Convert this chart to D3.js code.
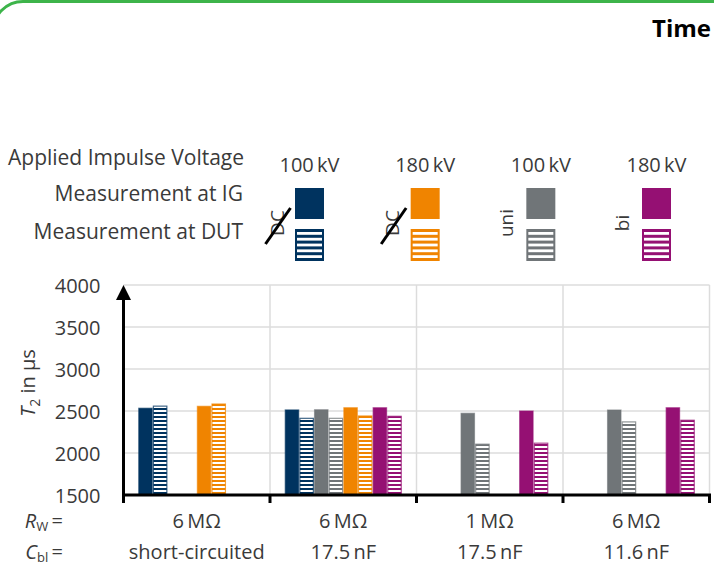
<!DOCTYPE html>
<html>
<head>
<meta charset="utf-8">
<script src="https://cdn.jsdelivr.net/npm/d3@7"></script>
<style>
  body { margin: 0; background: #fff; }
  svg { display: block; font-family: "Open Sans", sans-serif; }
</style>
</head>
<body>
<div id="chart"></div>
<script>
// ---- DATA ----
const groups = ["A", "B", "C", "D"];
const rwLabels = ["6\u2009M\u03A9", "6\u2009M\u03A9", "1\u2009M\u03A9", "6\u2009M\u03A9"];
const cblLabels = ["short-circuited", "17.5\u2009nF", "17.5\u2009nF", "11.6\u2009nF"];

// bar order inside every group
const seriesKeys = ["dc100IG", "dc100DUT", "uni100IG", "uni100DUT", "dc180IG", "dc180DUT", "bi180IG", "bi180DUT"];
const dc100IG   = [2540, 2520, null, null];
const dc100DUT  = [2565, 2420, null, null];
const uni100IG  = [null, 2522, 2480, 2519];
const uni100DUT = [null, 2420, 2112, 2377];
const dc180IG   = [2563, 2546, null, null];
const dc180DUT  = [2590, 2448, null, null];
const bi180IG   = [null, 2546, 2507, 2546];
const bi180DUT  = [null, 2444, 2124, 2397];

const yTicks = [1500, 2000, 2500, 3000, 3500, 4000];

const legendVoltages = ["100\u2009kV", "180\u2009kV", "100\u2009kV", "180\u2009kV"];
const legendTypes = ["DC", "DC", "uni", "bi"];

const colors = { navy: "#00335f", orange: "#f08400", gray: "#707578", purple: "#951073" };
const legendColors = [colors.navy, colors.orange, colors.gray, colors.purple];
const seriesColors = [colors.navy, colors.navy, colors.gray, colors.gray, colors.orange, colors.orange, colors.purple, colors.purple];

const values = { dc100IG, dc100DUT, uni100IG, uni100DUT, dc180IG, dc180DUT, bi180IG, bi180DUT };

const W = 714, H = 566;
const textCol = "#3a3a3a";
const fs = "21px";

const svg = d3.select("#chart").append("svg")
    .attr("width", W).attr("height", H);

const defs = svg.append("defs");

// striped patterns for the DUT bars
legendColors.forEach((c, i) => {
    let p = defs.append("pattern")
        .attr("id", "stripe" + i)
        .attr("patternUnits", "userSpaceOnUse")
        .attr("width", 4).attr("height", 4)
        .attr("y", 1);
    p.append("rect").attr("width", 4).attr("height", 4).attr("fill", c);
    p.append("rect").attr("y", 1).attr("width", 4).attr("height", 2).attr("fill", "#fff");
});
const stripeId = c => "url(#stripe" + legendColors.indexOf(c) + ")";

// green frame in the corner
svg.append("rect")
    .attr("x", -7).attr("y", 1.5)
    .attr("width", 760).attr("height", 700)
    .attr("rx", 30)
    .attr("fill", "none")
    .attr("stroke", "#3db44a")
    .attr("stroke-width", 3);

svg.append("text")
    .attr("x", 711).attr("y", 37)
    .attr("text-anchor", "end")
    .style("font-weight", "bold")
    .style("font-size", "24px")
    .attr("fill", "#000")
    .text("Time");

// ---- SCALES ----
const plot = { left: 123.5, right: 709.5, top: 285, bottom: 495 };

let x0 = d3.scaleBand()
    .domain(groups)
    .range([plot.left, plot.right])
    .padding(0);

let x1 = d3.scaleBand()
    .domain(seriesKeys)
    .range([0, x0.bandwidth()])
    .paddingInner(0)
    .paddingOuter(1);

let y = d3.scaleLinear()
    .domain([1500, 4000])
    .range([plot.bottom, plot.top]);

// ---- GRID ----
svg.append("g").selectAll("line")
    .data(yTicks.slice(1))
    .join("line")
    .attr("x1", plot.left).attr("x2", plot.right)
    .attr("y1", d => y(d)).attr("y2", d => y(d))
    .attr("stroke", "#dcdcdc").attr("stroke-width", 1.5);

svg.append("g").selectAll("line")
    .data(groups.slice(1).concat(["end"]))
    .join("line")
    .attr("x1", d => d === "end" ? plot.right : x0(d))
    .attr("x2", d => d === "end" ? plot.right : x0(d))
    .attr("y1", plot.top).attr("y2", plot.bottom)
    .attr("stroke", "#dcdcdc").attr("stroke-width", 1.5);

// ---- BARS ----
let barData = [];
groups.forEach((g, gi) => {
    seriesKeys.forEach((k, si) => {
        let v = values[k][gi];
        if (v != null) barData.push({ group: g, key: k, value: v, color: seriesColors[si], striped: si % 2 === 1 });
    });
});

svg.append("g").selectAll("rect")
    .data(barData)
    .join("rect")
    .attr("x", d => x0(d.group) + x1(d.key) + 0.6)
    .attr("y", d => y(d.value) + 0.6)
    .attr("width", x1.bandwidth() - 1.2)
    .attr("height", d => y(1500) - y(d.value) - 0.6)
    .attr("fill", d => d.striped ? stripeId(d.color) : d.color)
    .attr("stroke", d => d.color)
    .attr("stroke-opacity", d => d.striped ? 0.75 : 0.6)
    .attr("stroke-width", 1.2);

// ---- AXES ----
let yAxis = d3.axisLeft(y).tickValues(yTicks).tickFormat(d3.format("d")).tickSize(0).tickPadding(23);
let yAxisGroup = svg.append("g")
    .attr("class", "y-axis axis")
    .attr("transform", "translate(" + plot.left + ",0)")
    .call(yAxis);
yAxisGroup.select(".domain").remove();
yAxisGroup.selectAll("text")
    .style("font-size", "20px")
    .style("font-family", "'Open Sans', sans-serif")
    .attr("fill", textCol)
    .attr("dy", "0.36em");

// axis line with arrow
svg.append("line")
    .attr("x1", plot.left).attr("x2", plot.left)
    .attr("y1", plot.bottom + 1.5).attr("y2", plot.top + 10)
    .attr("stroke", "#000").attr("stroke-width", 3);
svg.append("path")
    .attr("d", "M" + (plot.left - 7.5) + "," + (plot.top + 15) + " L" + plot.left + "," + plot.top + " L" + (plot.left + 7.5) + "," + (plot.top + 15) + " Z")
    .attr("fill", "#000");

let xAxis = d3.axisBottom(x0).tickValues([]).tickSize(0);
let xAxisGroup = svg.append("g")
    .attr("class", "x-axis axis")
    .attr("transform", "translate(0," + plot.bottom + ")")
    .call(xAxis);
xAxisGroup.select(".domain")
    .attr("d", "M" + (plot.left - 1.5) + ",0H" + (plot.right + 1.5))
    .attr("stroke", "#000").attr("stroke-width", 3);
xAxisGroup.selectAll("line.tk")
    .data(groups.concat(["end"]))
    .join("line")
    .attr("class", "tk")
    .attr("x1", d => d === "end" ? plot.right : x0(d))
    .attr("x2", d => d === "end" ? plot.right : x0(d))
    .attr("y1", 0).attr("y2", 8)
    .attr("stroke", "#000").attr("stroke-width", 3);

// y title
let yt = svg.append("text")
    .attr("transform", "translate(35,383) rotate(-90)")
    .attr("text-anchor", "middle")
    .style("font-size", "20px")
    .attr("fill", textCol);
yt.append("tspan").style("font-style", "italic").text("T");
yt.append("tspan").attr("dy", 5).style("font-size", "14px").text("2");
yt.append("tspan").attr("dy", -5).text(" in \u00B5s");

// group labels
const rowY = [528, 559];
svg.append("g").selectAll("text")
    .data(groups)
    .join("text")
    .attr("x", d => x0(d) + x0.bandwidth() / 2)
    .attr("y", rowY[0])
    .attr("text-anchor", "middle")
    .style("font-size", "20px")
    .attr("fill", textCol)
    .text((d, i) => rwLabels[i]);

svg.append("g").selectAll("text")
    .data(groups)
    .join("text")
    .attr("x", d => x0(d) + x0.bandwidth() / 2)
    .attr("y", rowY[1])
    .attr("text-anchor", "middle")
    .style("font-size", "20px")
    .attr("fill", textCol)
    .text((d, i) => cblLabels[i]);

function rowLabel(yy, main, sub) {
    let t = svg.append("text")
        .attr("x", 63).attr("y", yy)
        .attr("text-anchor", "end")
        .style("font-size", "20px")
        .attr("fill", textCol);
    t.append("tspan").style("font-style", "italic").text(main);
    t.append("tspan").attr("dy", 3).style("font-size", "13px").text(sub);
    t.append("tspan").attr("dy", -3).text("\u2009=");
}
rowLabel(rowY[0], "R", "W");
rowLabel(rowY[1], "C", "bl");

// ---- LEGEND ----
svg.append("text")
    .attr("x", 8).attr("y", 165)
    .style("font-size", fs)
    .attr("fill", textCol)
    .text("Applied Impulse Voltage");
svg.append("text")
    .attr("x", 243).attr("y", 201)
    .attr("text-anchor", "end")
    .style("font-size", fs)
    .attr("fill", textCol)
    .text("Measurement at IG");
svg.append("text")
    .attr("x", 243).attr("y", 239)
    .attr("text-anchor", "end")
    .style("font-size", fs)
    .attr("fill", textCol)
    .text("Measurement at DUT");

const legendX = d3.scalePoint().domain(d3.range(4)).range([309.5, 656.5]);

let lg = svg.append("g").selectAll("g")
    .data(d3.range(4))
    .join("g")
    .attr("transform", d => "translate(" + legendX(d) + ",0)");

lg.append("text")
    .attr("y", 172)
    .attr("text-anchor", "middle")
    .style("font-size", "20px")
    .attr("fill", textCol)
    .text(d => legendVoltages[d]);

lg.append("rect")
    .attr("x", -14.5).attr("y", 188)
    .attr("width", 29).attr("height", 31)
    .attr("fill", d => legendColors[d]);

lg.append("rect")
    .attr("x", -14.5).attr("y", 229)
    .attr("width", 29).attr("height", 32)
    .attr("fill", d => legendColors[d]);

lg.each(function(d) {
    let g = d3.select(this);
    g.selectAll("rect.ws")
        .data(d3.range(5))
        .join("rect")
        .attr("class", "ws")
        .attr("x", -12.5).attr("width", 25)
        .attr("y", k => 232 + k * 5.8).attr("height", 2.8)
        .attr("fill", "#fff");
});

lg.append("text")
    .attr("transform", d => "translate(" + (d < 2 ? -26 : -28) + ",223) rotate(-90)")
    .attr("text-anchor", "middle")
    .style("font-size", "19px")
    .attr("fill", textCol)
    .text(d => legendTypes[d]);

// crossed-out DC
lg.filter(d => legendTypes[d] === "DC")
    .append("line")
    .attr("x1", -44).attr("y1", 244)
    .attr("x2", -19).attr("y2", 208)
    .attr("stroke", "#000").attr("stroke-width", 3);
</script>
</body>
</html>
